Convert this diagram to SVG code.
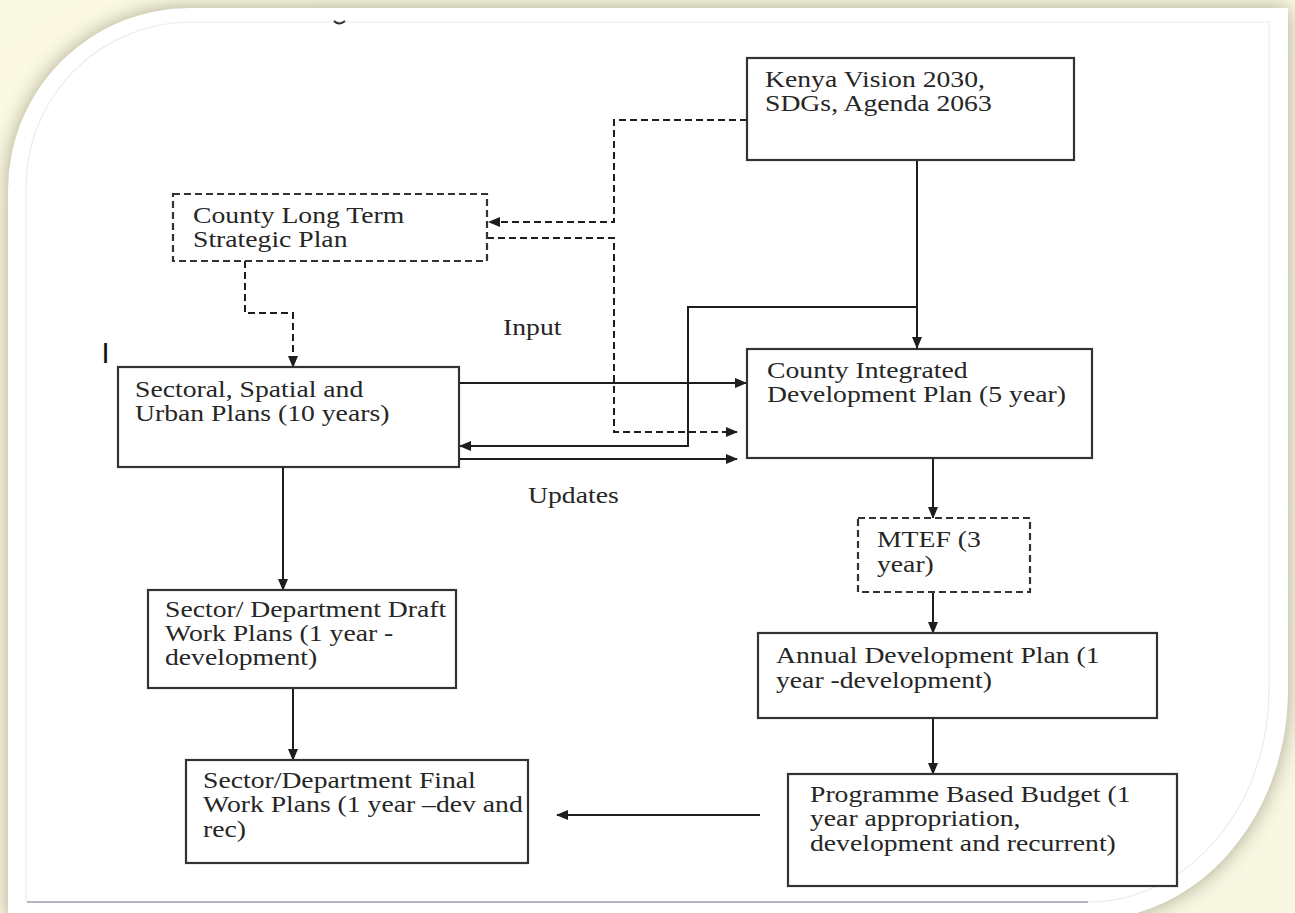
<svg xmlns="http://www.w3.org/2000/svg" width="1295" height="913" viewBox="0 0 1295 913">
<defs>
<style>
.bx{fill:#ffffff;stroke:#333333;stroke-width:2.2}
.dbx{fill:#ffffff;stroke:#333333;stroke-width:2.2;stroke-dasharray:7 4}
.ln{fill:none;stroke:#1e1e1e;stroke-width:2}
.dl{fill:none;stroke:#1e1e1e;stroke-width:2;stroke-dasharray:7 4}
.t{font-family:"Liberation Serif","Times New Roman",serif;font-size:22.5px;fill:#262626}
</style>
<marker id="ah" markerWidth="12" markerHeight="10" refX="11" refY="5" orient="auto" markerUnits="userSpaceOnUse"><path d="M0,0 L12,5 L0,10 z" fill="#1e1e1e"/></marker>
<filter id="sh" x="-10%" y="-10%" width="120%" height="120%"><feGaussianBlur stdDeviation="10"/></filter>
<linearGradient id="bg" x1="0" y1="0" x2="1" y2="1"><stop offset="0" stop-color="#fbf9e1"/><stop offset="1" stop-color="#f8f7e2"/></linearGradient>
</defs>
<rect x="0" y="0" width="1295" height="913" fill="url(#bg)"/>
<path d="M8,190 A182,182 0 0 1 190,8 H1288 V690 A200,230 0 0 1 1088,920 H8 Z" fill="#8f8d74" opacity="0.75" filter="url(#sh)"/>
<path d="M8,190 A182,182 0 0 1 190,8 H1288 V690 A200,230 0 0 1 1088,920 H8 Z" fill="#ffffff"/>
<path d="M26,902 V187 A165,165 0 0 1 191,22 H1269 V690 A181,212 0 0 1 1088,902" fill="none" stroke="#ececec" stroke-width="1.2"/>
<line x1="27" y1="902" x2="1088" y2="902" stroke="#9b9bb6" stroke-width="1.6"/>
<path d="M334,21 Q339,26 345,21" fill="none" stroke="#333" stroke-width="2"/>
<text x="0" y="0" transform="translate(101.5,363)" style="font-family:'Liberation Sans',Arial,sans-serif;font-size:29px;fill:#111">I</text>

<g id="connectors">
<path class="dl" d="M747,120 H614 V222 H489" marker-end="url(#ah)"/>
<path class="dl" d="M487,238 H614 V432 H737" marker-end="url(#ah)"/>
<path class="dl" d="M245,261 V313 H293 V367" marker-end="url(#ah)"/>
<path class="ln" d="M917,160 V348" marker-end="url(#ah)"/>
<path class="ln" d="M917,307 H688 V446 H460" marker-end="url(#ah)"/>
<path class="ln" d="M459,383 H746" marker-end="url(#ah)"/>
<path class="ln" d="M459,459 H737" marker-end="url(#ah)"/>
<path class="ln" d="M283,467 V590" marker-end="url(#ah)"/>
<path class="ln" d="M293,688 V760" marker-end="url(#ah)"/>
<path class="ln" d="M933,458 V518" marker-end="url(#ah)"/>
<path class="ln" d="M933,592 V633" marker-end="url(#ah)"/>
<path class="ln" d="M933,718 V774" marker-end="url(#ah)"/>
<path class="ln" d="M760,815 H557" marker-end="url(#ah)"/>
<text class="t" transform="matrix(1.23 0 0 1 503 335)">Input</text>
<text class="t" transform="matrix(1.23 0 0 1 528 503)">Updates</text>
</g>

<g id="kenya">
<rect class="bx" x="747" y="58" width="327" height="102"/>
<text class="t" transform="matrix(1.23 0 0 1 765 87)"><tspan x="0" y="0">Kenya Vision 2030,</tspan><tspan x="0" y="24">SDGs, Agenda 2063</tspan></text>
</g>
<g id="cltsp">
<rect class="dbx" x="173" y="194" width="314" height="67"/>
<text class="t" transform="matrix(1.23 0 0 1 193 223)"><tspan x="0" y="0">County Long Term</tspan><tspan x="0" y="24">Strategic Plan</tspan></text>
</g>
<g id="sectoral">
<rect class="bx" x="118" y="367" width="341" height="100"/>
<text class="t" transform="matrix(1.23 0 0 1 135 397)"><tspan x="0" y="0">Sectoral, Spatial and</tspan><tspan x="0" y="24">Urban Plans (10 years)</tspan></text>
</g>
<g id="cidp">
<rect class="bx" x="747" y="349" width="345" height="109"/>
<text class="t" transform="matrix(1.23 0 0 1 767 378)"><tspan x="0" y="0">County Integrated</tspan><tspan x="0" y="24">Development Plan (5 year)</tspan></text>
</g>
<g id="draft">
<rect class="bx" x="148" y="590" width="308" height="98"/>
<text class="t" transform="matrix(1.23 0 0 1 165 617)"><tspan x="0" y="0">Sector/ Department Draft</tspan><tspan x="0" y="24">Work Plans (1 year -</tspan><tspan x="0" y="48">development)</tspan></text>
</g>
<g id="final">
<rect class="bx" x="186" y="760" width="342" height="103"/>
<text class="t" transform="matrix(1.23 0 0 1 203 788)"><tspan x="0" y="0">Sector/Department Final</tspan><tspan x="0" y="24.5">Work Plans (1 year –dev and</tspan><tspan x="0" y="49">rec)</tspan></text>
</g>
<g id="mtef">
<rect class="dbx" x="858" y="518" width="172" height="74"/>
<text class="t" transform="matrix(1.23 0 0 1 877 547)"><tspan x="0" y="0">MTEF (3</tspan><tspan x="0" y="25">year)</tspan></text>
</g>
<g id="adp">
<rect class="bx" x="758" y="633" width="399" height="85"/>
<text class="t" transform="matrix(1.23 0 0 1 776 663)"><tspan x="0" y="0">Annual Development Plan (1</tspan><tspan x="0" y="25">year -development)</tspan></text>
</g>
<g id="pbb">
<rect class="bx" x="788" y="774" width="389" height="112"/>
<text class="t" transform="matrix(1.23 0 0 1 810 802)"><tspan x="0" y="0">Programme Based Budget (1</tspan><tspan x="0" y="24.5">year appropriation,</tspan><tspan x="0" y="49">development and recurrent)</tspan></text>
</g>
</svg>
